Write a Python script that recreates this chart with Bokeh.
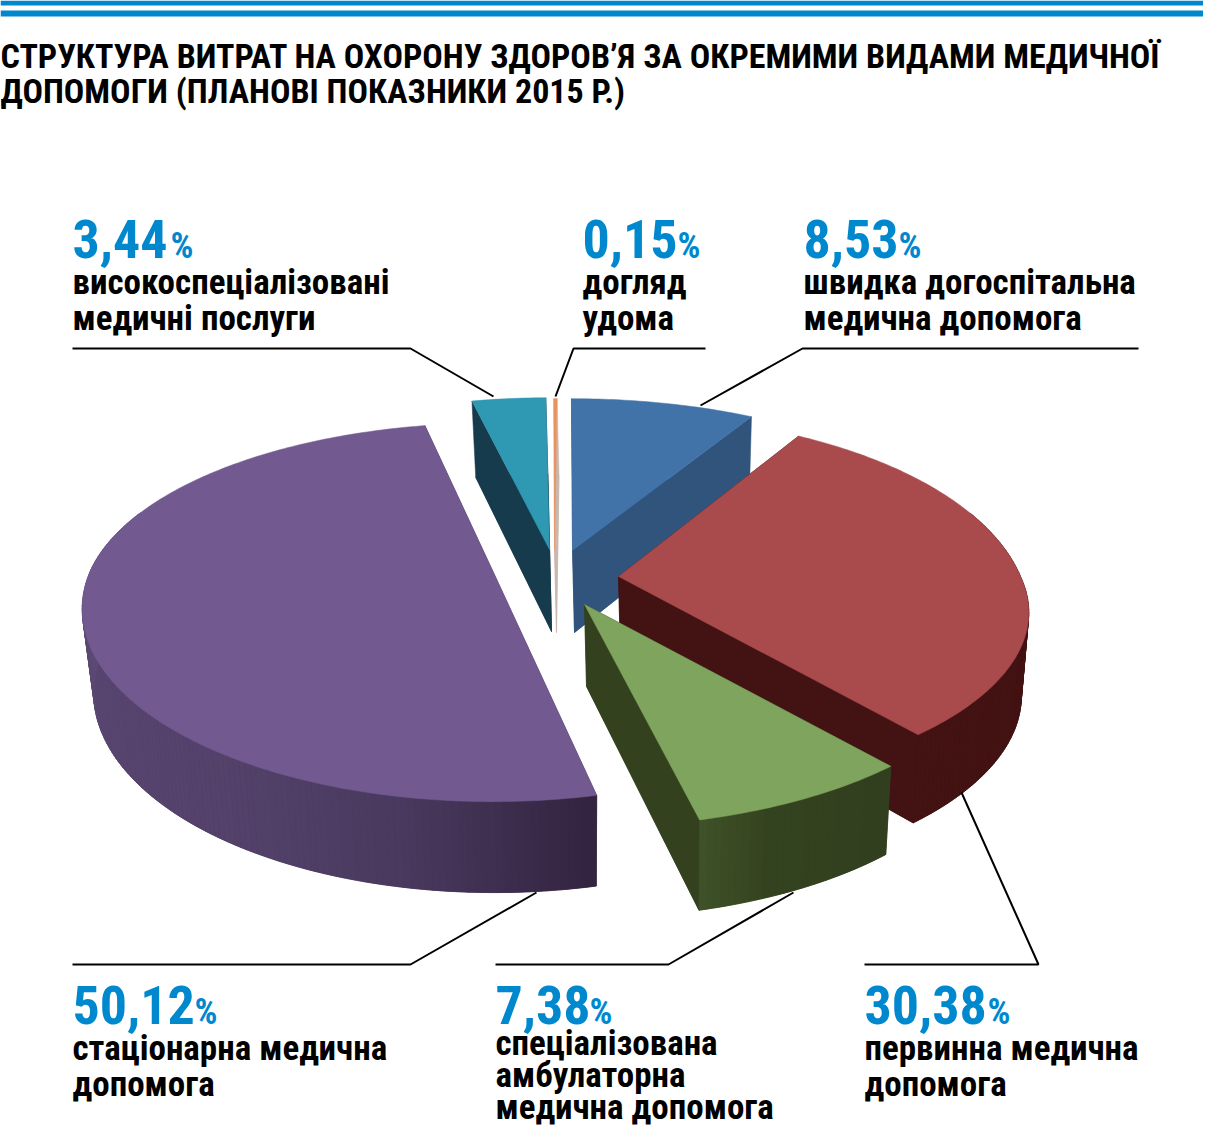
import numpy as np
from bokeh.plotting import figure
from bokeh.models import Range1d
from bokeh.core.properties import value
from bokeh.embed import file_html
from bokeh.resources import INLINE

# ---- data ----
SHARES = [3.44, 0.15, 8.53, 30.38, 7.38, 50.12]
SHARE_LABELS = ["3,44", "0,15", "8,53", "30,38", "7,38", "50,12"]
NAMES = [
    ["високоспеціалізовані", "медичні послуги"],
    ["догляд", "удома"],
    ["швидка догоспітальна", "медична допомога"],
    ["первинна медична", "допомога"],
    ["спеціалізована", "амбулаторна", "медична допомога"],
    ["стаціонарна медична", "допомога"],
]
TITLE = ["СТРУКТУРА ВИТРАТ НА ОХОРОНУ ЗДОРОВ’Я ЗА ОКРЕМИМИ ВИДАМИ МЕДИЧНОЇ",
         "ДОПОМОГИ (ПЛАНОВІ ПОКАЗНИКИ 2015 Р.)"]

# ---- style / layout ----
W, H = 1203, 1130
BLUE = "#0088cf"
FONT = "Roboto Condensed"
TOPS = ["#2f98b2", "#e8935f", "#4172a8", "#a94a4c", "#7fa45e", "#725a91"]
SIDES = ["#163b4c", "#c9b8ae", "#31547d", "#431313", "#33411f", "#3a2a4c"]
# apex x, apex y, radius, far tilt, near tilt, rotation offset
GEOM = [
    (549, 549, 412, .442, .442, 0.5),
    (554, 550, 420, .434, .434, 0.0),
    (572, 550, 413, .441, .441, 0.6),
    (618, 576, 402, .480, .428, -0.5),
    (584, 604, 405, .440, .440, 0.3),
    (492, 570, 402, .440, .460, -0.9),
]
RIM_RAMPS = {
    4: ["#323f1f", "#33411f", "#34431f", "#3f5128"],
    5: ["#332440", "#4a3a5f", "#54426b", "#584570", "#5b4873", "#62507c", "#6b5688", "#6b5688", "#6b5688"],
}
K = 0.2
DEPTH = 82
START = 102.5
# x start, baseline of the number, x of % sign, baselines of the name lines
LABELS = [
    (72, 259, 170, [295.5, 331]),
    (582, 259, 677, [295.5, 331]),
    (803, 259, 898, [295.5, 331]),
    (864, 1025, 987, [1061, 1097]),
    (495, 1025, 589, [1056, 1088, 1120]),
    (72, 1025, 194, [1061, 1097]),
]
LEADERS = [
    ([72, 410, 493], [348, 348, 396]),
    ([705, 573, 555], [348, 348, 396]),
    ([1138, 802, 700], [348, 348, 405]),
    ([864, 1038, 961], [964, 964, 792]),
    ([495, 668, 793], [964, 964, 892]),
    ([72, 410, 536], [964, 964, 892]),
]
TITLE_Y = [69, 104]
TEXT_SHIFT = 0.385  # the browser sets this font lower than the baseline asked for

p = figure(width=W, height=H, x_range=Range1d(0, W), y_range=Range1d(H, 0),
           output_backend="svg", toolbar_location=None, x_axis_location=None,
           y_axis_location=None, min_border=0, outline_line_color=None, background_fill_color="white")
p.grid.visible = False

# header stripes
for y0, y1 in [(0, 5), (10, 16)]:
    p.quad(left=0, right=W, top=y0, bottom=y1, fill_color=BLUE, line_color=None)


def rim(t, ax, ay, R, qf, qn, bottom=False):
    s, c = np.sin(t), np.cos(t)
    persp = 1 / (1 + K * s)
    q = np.where(s > 0, qf, qn)
    if bottom:
        ax, ay, R, q = ax + 2, ay + DEPTH, R * .977, q * 1.063
    return ax + R * c * persp, ay - R * q * s * persp


def ramp(colors, f):
    pts = np.array([[int(c[i:i + 2], 16) for i in (1, 3, 5)] for c in colors], float)
    pos = f * (len(colors) - 1)
    i = min(int(pos), len(colors) - 2)
    rgb = pts[i] + (pts[i + 1] - pts[i]) * (pos - i)
    return "#%02x%02x%02x" % tuple(int(v) for v in rgb)


def label(x, y, s, size, color, style="bold"):
    p.text([x], [y - TEXT_SHIFT * size], text=[s], text_font=value(FONT), text_font_style=style,
           text_font_size=f"{size}px", text_color=color, text_baseline="alphabetic")


angle = START
total = sum(SHARES)
for i, share in enumerate(SHARES):
    ax, ay, R, qf, qn, rot = GEOM[i]
    sweep = share / total * 360
    t = np.radians(np.linspace(angle + rot, angle + rot - sweep, max(int(sweep * 1.2), 4)))
    angle -= sweep
    x_top, y_top = rim(t, ax, ay, R, qf, qn)
    x_bot, y_bot = rim(t, ax, ay, R, qf, qn, bottom=True)
    side = SIDES[i]
    abx, aby = ax + 2, ay + DEPTH
    # bottom face + radial walls
    p.patch(list(x_bot) + [abx], list(y_bot) + [aby], fill_color=side, line_color=side, line_width=.5)
    for e in (0, -1):
        p.patch([ax, x_top[e], x_bot[e], abx], [ay, y_top[e], y_bot[e], aby],
                fill_color=side, line_color=side, line_width=.5)
    # outer wall, front part only
    n = len(t)
    xs, ys, cols = [], [], []
    for j in range(n - 1):
        if np.sin(t[j]) > .35 and np.sin(t[j + 1]) > .35:
            continue
        xs.append([x_top[j], x_top[j + 1], x_bot[j + 1], x_bot[j]])
        ys.append([y_top[j], y_top[j + 1], y_bot[j + 1], y_bot[j]])
        c = ramp(RIM_RAMPS[i], j / (n - 2)) if i in RIM_RAMPS else side
        cols.append(c)
    if xs:
        p.patches(xs, ys, fill_color=cols, line_color=cols, line_width=.7)
    # top face
    p.patch(list(x_top) + [ax], list(y_top) + [ay], fill_color=TOPS[i], line_color=TOPS[i], line_width=.5)

# leaders
for lx, ly in LEADERS:
    p.line(lx, ly, line_color="#000000", line_width=2)

# title
for line, ty in zip(TITLE, TITLE_Y):
    label(0, ty, line, 34, "#000000")

# labels
for i, (x, by, px, lines) in enumerate(LABELS):
    label(x, by, SHARE_LABELS[i], 54, BLUE)
    label(px, by, "%", 36, BLUE)
    for line, ny in zip(NAMES[i], lines):
        label(x, ny, line, 35, "#000000")

open("out.html", "w").write(file_html(p, INLINE))
